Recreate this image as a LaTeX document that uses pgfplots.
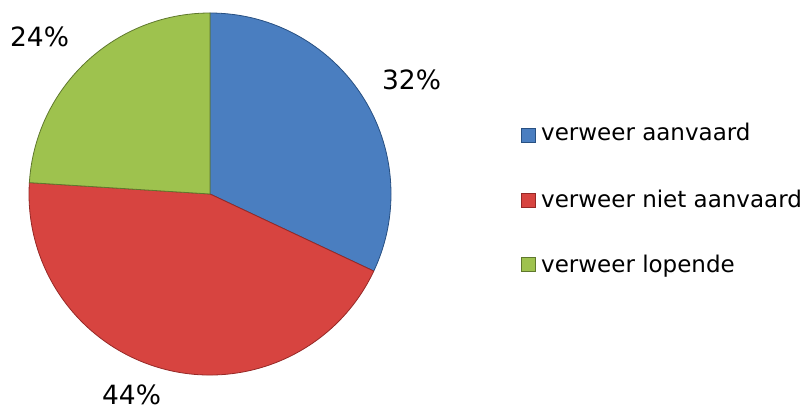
\documentclass[border=0pt]{standalone}
\usepackage{pgfplots}
\usepackage{pgfplotstable}
\pgfplotsset{compat=1.18}
\usepackage{fontspec}
\setmainfont{DejaVu Sans}
\definecolor{cblue}{RGB}{74,126,192}
\definecolor{cred}{RGB}{215,68,64}
\definecolor{cgreen}{RGB}{158,194,78}
\definecolor{dblue}{RGB}{40,80,130}
\definecolor{dred}{RGB}{150,40,38}
\definecolor{dgreen}{RGB}{95,120,45}
\pgfplotstableread{
label value
aanvaard 32
niet 44
lopende 24
}\piedata
\begin{document}
\begin{tikzpicture}
\pgfplotstablegetelem{0}{value}\of\piedata \let\va\pgfplotsretval
\pgfplotstablegetelem{1}{value}\of\piedata \let\vb\pgfplotsretval
\pgfplotstablegetelem{2}{value}\of\piedata \let\vc\pgfplotsretval
\pgfmathsetmacro{\aA}{90}
\pgfmathsetmacro{\aB}{90-\va*3.6}
\pgfmathsetmacro{\aC}{\aB-\vb*3.6}
\pgfmathsetmacro{\aD}{\aC-\vc*3.6}
\begin{axis}[
  x=1pt, y=1pt, xmin=0, xmax=806, ymin=0, ymax=410,
  hide axis, clip=false, scale only axis,
]
\path (axis cs:0,0) rectangle (axis cs:806,410);
\fill[cblue, draw=dblue, line width=0.8pt, line join=round] (axis cs:210,216) -- ++(\aA:181pt) arc[start angle=\aA, end angle=\aB, radius=181pt] -- cycle;
\fill[cred, draw=dred, line width=0.8pt, line join=round] (axis cs:210,216) -- ++(\aB:181pt) arc[start angle=\aB, end angle=\aC, radius=181pt] -- cycle;
\fill[cgreen, draw=dgreen, line width=0.8pt, line join=round] (axis cs:210,216) -- ++(\aC:181pt) arc[start angle=\aC, end angle=\aD, radius=181pt] -- cycle;
\node[inner sep=0pt, font=\fontsize{26.5pt}{30pt}\selectfont] at (axis cs:411.5,330) {32\%};
\node[inner sep=0pt, font=\fontsize{26.5pt}{30pt}\selectfont] at (axis cs:131.5,15) {44\%};
\node[inner sep=0pt, font=\fontsize{26.5pt}{30pt}\selectfont] at (axis cs:39.5,373.5) {24\%};
\fill[cblue, draw=dblue, line width=0.6pt] (axis cs:521,268) rectangle (axis cs:535,282);
\fill[cred, draw=dred, line width=0.6pt] (axis cs:521,203) rectangle (axis cs:535,217);
\fill[cgreen, draw=dgreen, line width=0.6pt] (axis cs:521,138.5) rectangle (axis cs:535,152.5);
\node[anchor=base west, inner sep=0pt, font=\fontsize{23pt}{26pt}\selectfont] at (axis cs:541,269) {verweer aanvaard};
\node[anchor=base west, inner sep=0pt, font=\fontsize{23pt}{26pt}\selectfont] at (axis cs:541,202) {verweer niet aanvaard};
\node[anchor=base west, inner sep=0pt, font=\fontsize{23pt}{26pt}\selectfont] at (axis cs:541,137) {verweer lopende};
\end{axis}
\end{tikzpicture}
\end{document}
